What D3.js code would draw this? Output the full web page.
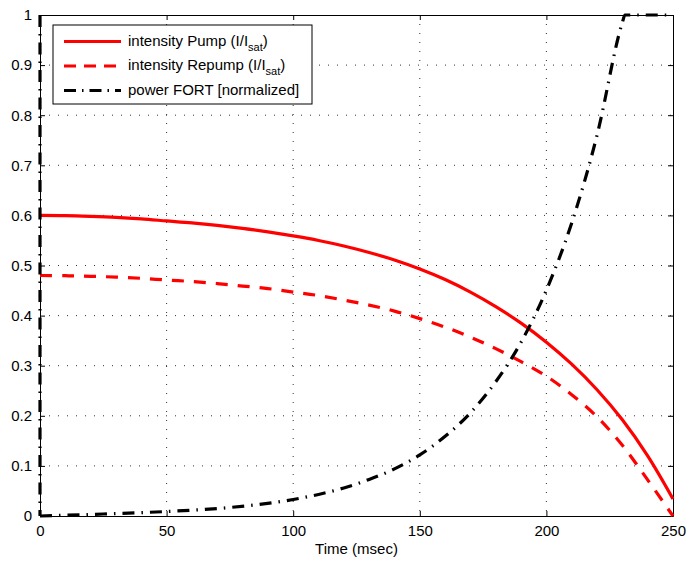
<!DOCTYPE html>
<html>
<head>
<meta charset="utf-8">
<script src="https://d3js.org/d3.v7.min.js"></script>
<style>
body { margin: 0; background: #fff; }
text { font-family: "Liberation Sans", Arial, sans-serif; }
</style>
</head>
<body>
<script>
// values (every 10 ms)
var timeMs = [0, 10, 20, 30, 40, 50, 60, 70, 80, 90, 100, 110, 120, 130, 140, 150, 160, 170, 180, 190, 200, 210, 220, 230, 240, 250];
var pump   = [0.600, 0.5995, 0.598, 0.596, 0.593, 0.589, 0.585, 0.580, 0.574, 0.567, 0.559, 0.550, 0.539, 0.526, 0.511, 0.493,
              0.472, 0.447, 0.418, 0.385, 0.347, 0.303, 0.252, 0.192, 0.120, 0.034];
var repump = [0.480, 0.4796, 0.4784, 0.4768, 0.4744, 0.471, 0.468, 0.464, 0.459, 0.454, 0.447, 0.440, 0.431, 0.421, 0.409, 0.394,
              0.377, 0.357, 0.334, 0.308, 0.279, 0.242, 0.198, 0.141, 0.072, 0.000];
// FORT starts with a vertical jump at t = 0
var fortJumpTime = [0, 0];
var fortJump     = [1, 0];
var fortTime = [0, 25, 50, 75, 100, 110, 120, 130, 140, 150, 160, 170, 180, 190, 200, 210, 220, 230, 231, 250];
var fort     = [0, 0.004, 0.009, 0.017, 0.033, 0.043, 0.056, 0.073, 0.094, 0.122, 0.159, 0.206, 0.268, 0.347, 0.451, 0.585, 0.760, 0.985, 1.0, 1.0];
var xTicks = [0, 50, 100, 150, 200, 250];
var yTicks = [0, 0.1, 0.2, 0.3, 0.4, 0.5, 0.6, 0.7, 0.8, 0.9, 1];

var width = 687, height = 561;
var plotL = 40, plotR = 673, plotT = 15, plotB = 516;
var fs = 15;

var svg = d3.select("body").append("svg")
  .attr("width", width)
  .attr("height", height);

var x = d3.scaleLinear().domain([0, 250]).range([plotL, plotR]);
var y = d3.scaleLinear().domain([0, 1]).range([plotB, plotT]);

// dotted grid
var grid = svg.append("g");
grid.selectAll(".gx").data(xTicks.slice(1, -1)).enter().append("line")
  .attr("x1", d => x(d)).attr("x2", d => x(d))
  .attr("y1", plotT).attr("y2", plotB)
  .attr("stroke", "#333").attr("stroke-width", 1)
  .attr("stroke-dasharray", "1,8");
grid.selectAll(".gy").data(yTicks.slice(1, -1)).enter().append("line")
  .attr("x1", plotL).attr("x2", plotR)
  .attr("y1", d => y(d)).attr("y2", d => y(d))
  .attr("stroke", "#333").attr("stroke-width", 1)
  .attr("stroke-dasharray", "1,8");

// axes (ticks pointing inward, mirrored on top and right)
var axB = svg.append("g").attr("transform", "translate(0," + plotB + ")")
  .call(d3.axisBottom(x).tickValues(xTicks).tickSizeInner(-5).tickSizeOuter(0).tickPadding(9));
var axT = svg.append("g").attr("transform", "translate(0," + plotT + ")")
  .call(d3.axisTop(x).tickValues(xTicks).tickSizeInner(-5).tickSizeOuter(0).tickFormat(""));
var axL = svg.append("g").attr("transform", "translate(" + plotL + ",0)")
  .call(d3.axisLeft(y).tickValues(yTicks).tickSizeInner(-5).tickSizeOuter(0).tickPadding(8)
    .tickFormat(d => d3.format("~g")(d)));
var axR = svg.append("g").attr("transform", "translate(" + plotR + ",0)")
  .call(d3.axisRight(y).tickValues(yTicks).tickSizeInner(-5).tickSizeOuter(0).tickFormat(""));

[axB, axT, axL, axR].forEach(function(a) {
  a.select(".domain").attr("stroke", "#000").attr("stroke-width", 1);
  a.selectAll(".tick line").attr("stroke", "#000");
  a.selectAll("text").attr("font-size", fs).attr("fill", "#000")
    .style("font-family", "'Liberation Sans', Arial, sans-serif");
});

svg.append("text")
  .attr("x", (plotL + plotR) / 2).attr("y", 554)
  .attr("text-anchor", "middle").attr("font-size", fs)
  .text("Time (msec)");

// curves
var smooth = d3.line().x(d => x(d[0])).y(d => y(d[1])).curve(d3.curveCatmullRom.alpha(0.5));
var mono = d3.line().x(d => x(d[0])).y(d => y(d[1])).curve(d3.curveMonotoneX);
var straight = d3.line().x(d => x(d[0])).y(d => y(d[1]));
var plot = svg.append("g");

plot.append("path")
  .datum(d3.zip(timeMs, pump))
  .attr("d", smooth).attr("fill", "none")
  .attr("stroke", "#ff0000").attr("stroke-width", 3.2);

plot.append("path")
  .datum(d3.zip(timeMs, repump))
  .attr("d", smooth).attr("fill", "none")
  .attr("stroke", "#ff0000").attr("stroke-width", 3.2)
  .attr("stroke-dasharray", "12,10");

plot.append("path")
  .datum(d3.zip(fortJumpTime, fortJump))
  .attr("d", straight).attr("fill", "none")
  .attr("stroke", "#000").attr("stroke-width", 3.2)
  .attr("stroke-dasharray", "12,7,1.5,7");

plot.append("path")
  .datum(d3.zip(fortTime, fort))
  .attr("d", mono).attr("fill", "none")
  .attr("stroke", "#000").attr("stroke-width", 3.2)
  .attr("stroke-dasharray", "12,7,1.5,7");

// legend
var legend = svg.append("g");
legend.append("rect")
  .attr("x", 53).attr("y", 25).attr("width", 259).attr("height", 79)
  .attr("fill", "#fff").attr("stroke", "#000").attr("stroke-width", 1);

var items = [
  { label: "intensity Pump (I/I", sub: "sat", tail: ")", color: "#ff0000", dash: null },
  { label: "intensity Repump (I/I", sub: "sat", tail: ")", color: "#ff0000", dash: "12,8" },
  { label: "power FORT [normalized]", sub: null, tail: null, color: "#000", dash: "12,6,1.5,6" }
];
items.forEach(function(it, i) {
  var yy = 41.5 + i * 24.5;
  legend.append("line")
    .attr("x1", 64).attr("x2", 121).attr("y1", yy).attr("y2", yy)
    .attr("stroke", it.color).attr("stroke-width", 3.2)
    .attr("stroke-dasharray", it.dash);
  var t = legend.append("text")
    .attr("x", 128).attr("y", yy + 4).attr("font-size", fs);
  t.append("tspan").text(it.label);
  if (it.sub) {
    t.append("tspan").attr("font-size", 11).attr("dy", 5).text(it.sub);
    t.append("tspan").attr("dy", -5).text(it.tail);
  }
});
</script>
</body>
</html>
